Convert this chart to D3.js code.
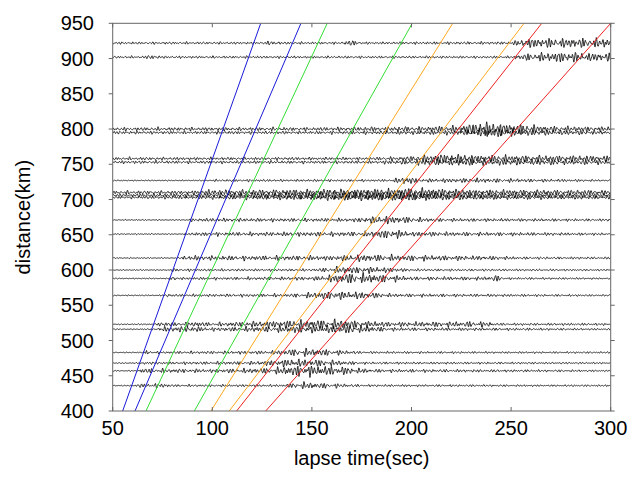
<!DOCTYPE html>
<html>
<head>
<meta charset="utf-8">
<script src="https://cdn.jsdelivr.net/npm/d3@7"></script>
<style>
  body { margin: 0; background: #fff; }
  svg { display: block; font-family: "Liberation Sans", Arial, sans-serif; }
</style>
</head>
<body>
<svg id="chart" width="640" height="480"></svg>
<script>
// axis ticks
const timeTicks = [50, 100, 150, 200, 250, 300];
const distTicks = [400, 450, 500, 550, 600, 650, 700, 750, 800, 850, 900, 950];

// station distances (km) of the traces
const distances = [922, 902, 800, 795, 758, 753, 727, 710, 706, 703, 671, 651,
                   617, 600, 588, 564, 523, 516, 483, 468, 457, 436];

// amplitude envelope of each trace, [time(sec), half amplitude(km)]
const envelopes = [
  [[50,2],[125,2],[130,4],[135,2],[165,2],[170,5],[175,2],[250,2.5],[258,8],[300,8]],
  [[50,2],[65,2],[70,4],[75,2],[250,2],[258,6],[275,9],[290,7],[300,7]],
  [[50,3],[150,3],[170,3.5],[220,5],[235,12],[250,9],[270,5],[300,4]],
  [[50,2.5],[150,2.5],[225,4],[240,8],[260,5],[300,3]],
  [[50,2.5],[180,2.5],[200,4],[215,8],[240,6],[300,5]],
  [[50,2.5],[180,2.5],[205,5],[225,6],[300,4]],
  [[50,1],[100,1],[102,2],[190,2],[196,7],[205,3],[230,4],[300,1.5]],
  [[50,3],[90,3],[95,4.5],[180,6],[200,8],[230,5],[300,4]],
  [[50,2.5],[95,3.5],[185,7],[210,5],[300,3.5]],
  [[50,2],[95,3],[190,6],[230,4],[300,3]],
  [[50,1],[88,1],[90,3],[170,3],[185,7],[200,5],[210,3],[300,2]],
  [[50,1],[86,1],[88,3],[175,4],[190,8],[200,4],[300,2]],
  [[50,1],[84,1],[86,4],[160,4],[175,6],[200,5],[240,3.5],[260,2],[300,2]],
  [[50,1],[79,1],[80,4],[82,2],[150,2],[165,6],[185,5],[200,2],[300,1.5]],
  [[50,1],[78,1],[80,4],[84,2],[150,3],[170,9],[190,6],[200,3],[238,3],[242,6],[246,2],[300,1.5]],
  [[50,1],[76,1],[77,4],[80,2],[140,3],[160,7],[175,6],[190,3],[300,1.5]],
  [[50,1],[71,1],[72,4],[85,3],[90,5],[100,3],[130,6],[160,8],[190,4],[235,5],[245,2],[300,2]],
  [[50,1],[72,1],[73,4],[88,5],[100,3],[140,6],[170,7],[190,3],[300,1.5]],
  [[50,1],[66,1],[67,4],[70,2],[130,3],[145,7],[160,5],[175,2],[300,1.5]],
  [[50,1],[65,1],[66,3],[70,2],[120,3],[140,7],[160,5],[175,2],[300,1.5]],
  [[50,1],[63,1],[64,4],[100,3],[130,5],[145,10],[165,7],[180,3],[300,1.5]],
  [[50,1],[61,1],[62,3],[75,4],[80,2],[135,2],[145,6],[160,4],[175,2],[300,1.5]]
];

// travel time lines: time at 400 km and at 950 km
const phaseColors = ['#1a1ad8', '#1a1ad8', '#33dd33', '#33dd33', '#ffa820', '#ffa820', '#ee2222', '#ee2222'];
const timeAt400 = [55.0, 61.2, 66.7, 91.0, 99.3, 108.5, 112.2, 126.8];
const timeAt950 = [124.3, 144.5, 157.7, 200.4, 220.7, 256.5, 265.4, 300.0];

const svg = d3.select('#chart');
const plotLeft = 112.7, plotRight = 610.7, plotTop = 23.3, plotBottom = 411;

const x = d3.scaleLinear().domain([50, 300]).range([plotLeft, plotRight]);
const y = d3.scaleLinear().domain([400, 950]).range([plotBottom, plotTop]);

svg.append('defs').append('clipPath').attr('id', 'plot')
  .append('rect')
  .attr('x', plotLeft).attr('y', plotTop)
  .attr('width', plotRight - plotLeft).attr('height', plotBottom - plotTop);

const plot = svg.append('g').attr('clip-path', 'url(#plot)');

// carrier wiggle shaped by the envelope (a few mixed periods so it is not too regular)
const periods = [1.7, 1.13, 2.9, 1.41, 0.93];
const weights = [0.4, 0.25, 0.2, 0.3, 0.15];
function wiggle(t, k) {
  let s = 0;
  periods.forEach((p, j) => {
    s += weights[j] * Math.sin(2 * Math.PI * t / p + k * (1.3 + j * 0.77) + j);
  });
  return s * 0.9;
}

const times = d3.range(50, 300.01, 0.25);

distances.forEach((d, k) => {
  const env = envelopes[k];
  const envScale = d3.scaleLinear().domain(env.map(e => e[0])).range(env.map(e => e[1]));
  const line = d3.line()
    .x(t => x(t))
    .y(t => y(d + envScale(t) * wiggle(t, k)));
  plot.append('path')
    .attr('d', line(times))
    .attr('fill', 'none')
    .attr('stroke', '#000')
    .attr('stroke-width', 0.8);
});

// travel time lines
timeAt400.forEach((t0, i) => {
  plot.append('line')
    .attr('x1', x(t0)).attr('y1', y(400))
    .attr('x2', x(timeAt950[i])).attr('y2', y(950))
    .attr('stroke', phaseColors[i])
    .attr('stroke-width', 1);
});

// frame
const axisColor = '#666';
svg.append('rect')
  .attr('x', plotLeft).attr('y', plotTop)
  .attr('width', plotRight - plotLeft).attr('height', plotBottom - plotTop)
  .attr('fill', 'none').attr('stroke', axisColor).attr('stroke-width', 1);

const tickLen = 4;
timeTicks.forEach(t => {
  svg.append('line').attr('x1', x(t)).attr('x2', x(t))
    .attr('y1', plotBottom).attr('y2', plotBottom - tickLen).attr('stroke', axisColor);
  svg.append('line').attr('x1', x(t)).attr('x2', x(t))
    .attr('y1', plotTop).attr('y2', plotTop + tickLen).attr('stroke', axisColor);
  svg.append('text')
    .attr('x', x(t)).attr('y', 428)
    .attr('text-anchor', 'middle').attr('dominant-baseline', 'central')
    .attr('font-size', 20).attr('fill', '#000')
    .text(t);
});

distTicks.forEach(d => {
  svg.append('line').attr('x1', plotLeft).attr('x2', plotLeft - tickLen)
    .attr('y1', y(d)).attr('y2', y(d)).attr('stroke', axisColor);
  svg.append('line').attr('x1', plotRight).attr('x2', plotRight + tickLen)
    .attr('y1', y(d)).attr('y2', y(d)).attr('stroke', axisColor);
  svg.append('text')
    .attr('x', 94).attr('y', y(d))
    .attr('text-anchor', 'end').attr('dominant-baseline', 'central')
    .attr('font-size', 20).attr('fill', '#000')
    .text(d);
});

svg.append('text')
  .attr('x', (plotLeft + plotRight) / 2).attr('y', 458)
  .attr('text-anchor', 'middle').attr('dominant-baseline', 'central')
  .attr('font-size', 20).attr('fill', '#000')
  .text('lapse time(sec)');

svg.append('text')
  .attr('transform', `translate(23,${(plotTop + plotBottom) / 2}) rotate(-90)`)
  .attr('text-anchor', 'middle').attr('dominant-baseline', 'central')
  .attr('font-size', 20).attr('fill', '#000')
  .text('distance(km)');
</script>
</body>
</html>
